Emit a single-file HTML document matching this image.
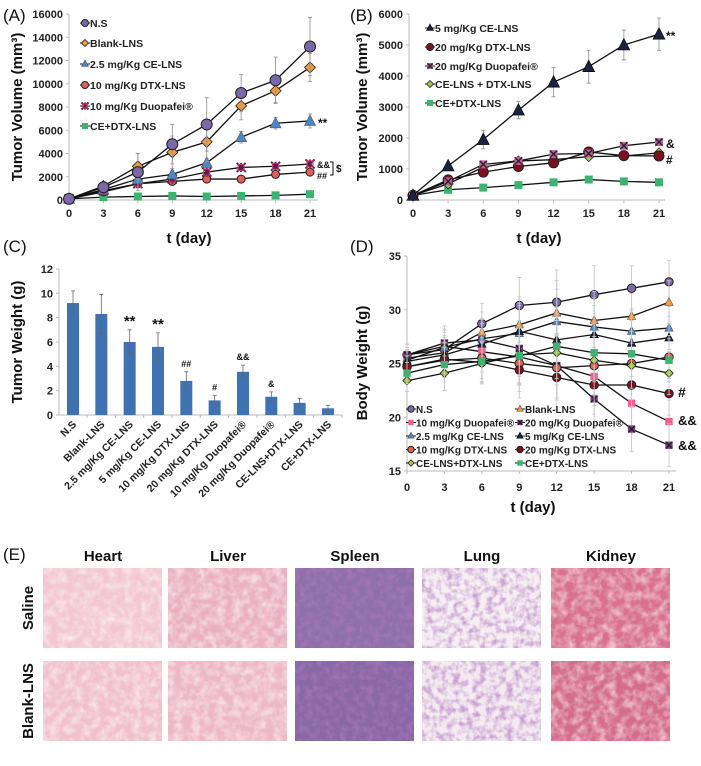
<!DOCTYPE html>
<html><head><meta charset="utf-8">
<style>
html,body{margin:0;padding:0;background:#fff;}
svg{display:block;font-family:"Liberation Sans",Arial,sans-serif;}
.tick{font-size:11px;font-weight:bold;fill:#222;}
.leg{font-size:10.5px;font-weight:bold;fill:#222;}
.legd{font-size:10px;font-weight:bold;fill:#222;}
.ttl{font-size:15px;font-weight:bold;fill:#111;}
.pl{font-size:17px;fill:#111;}
.ann{font-size:12px;font-weight:bold;fill:#111;}
.org{font-size:15px;font-weight:bold;fill:#111;}
</style></head>
<body>
<svg id="fig" width="701" height="766" viewBox="0 0 701 766">
<defs>
<filter id="tex" x="0" y="0" width="100%" height="100%">
<feTurbulence type="fractalNoise" baseFrequency="0.12" numOctaves="3" seed="4" result="n"/>
<feColorMatrix in="n" type="matrix" values="0 0 0 0 1  0 0 0 0 1  0 0 0 0 1  0 0 0 -2.2 1.4"/>
</filter>
<filter id="tex2" x="0" y="0" width="100%" height="100%">
<feTurbulence type="fractalNoise" baseFrequency="0.15" numOctaves="3" seed="9"/>
<feColorMatrix type="matrix" values="0 0 0 0 0.45  0 0 0 0 0.2  0 0 0 0 0.55  0 0 0 -2.5 1.5"/>
</filter>
</defs>
<g id="root"></g>
</svg>
<script>
// ---------- data ----------
const days = [0,3,6,9,12,15,18,21];
// Panel A
const aNames = ["N.S","Blank-LNS","2.5 mg/Kg CE-LNS","10 mg/Kg DTX-LNS","10 mg/Kg Duopafei®","CE+DTX-LNS"];
const aNS = [100,1100,2400,4800,6500,9200,10300,13200];
const aBlank = [100,1200,2900,4100,5000,8100,9400,11400];
const aCE25 = [100,900,1800,2200,3200,5400,6600,6800];
const aDTX10 = [100,700,1400,1600,1800,1800,2200,2400];
const aDuo10 = [100,800,1400,1800,2400,2800,2900,3100];
const aCEDTX = [100,250,300,350,300,350,400,500];
const aErrNS = [0,200,1600,1700,2300,1600,2000,2500];
const aErrBlank = [0,200,1100,1400,1700,1200,1000,1200];
const aErrCE25 = [0,100,300,300,400,500,500,600];
const aErrSmall = [0,100,150,150,200,200,200,200];
const aTicks = [0,2000,4000,6000,8000,10000,12000,14000,16000];
// Panel B
const bNames = ["5 mg/Kg CE-LNS","20 mg/Kg DTX-LNS","20 mg/Kg Duopafei®","CE-LNS + DTX-LNS","CE+DTX-LNS"];
const bCE5 = [150,1100,1950,2900,3800,4300,5000,5350];
const bDTX20 = [150,650,900,1080,1200,1550,1430,1420];
const bDuo20 = [150,600,1150,1260,1480,1500,1750,1870];
const bCELNS = [150,520,1060,1260,1300,1400,1420,1520];
const bCEDTX = [150,330,400,480,570,660,600,570];
const bErrCE5 = [0,80,300,280,470,530,480,520];
const bErrSmall = [0,60,80,80,80,80,80,80];
const bTicks = [0,1000,2000,3000,4000,5000,6000];
// Panel C
const cCats = ["N.S","Blank-LNS","2.5 mg/Kg CE-LNS","5 mg/Kg CE-LNS","10 mg/Kg DTX-LNS","20 mg/Kg DTX-LNS","10 mg/Kg Duopafei®","20 mg/Kg Duopafei®","CE-LNS+DTX-LNS","CE+DTX-LNS"];
const cVals = [9.2,8.3,6.0,5.6,2.8,1.2,3.55,1.5,1.0,0.55];
const cErrs = [1.0,1.6,1.0,1.15,0.75,0.4,0.55,0.4,0.35,0.25];
const cMarks = ["","","**","**","##","#","&&","&","",""];
const cTicks = [0,2,4,6,8,10,12];
// Panel D
const dNames = ["N.S","Blank-LNS","10 mg/Kg Duopafei®","20 mg/Kg Duopafei®","2.5 mg/Kg CE-LNS","5 mg/Kg CE-LNS","10 mg/Kg DTX-LNS","20 mg/Kg DTX-LNS","CE-LNS+DTX-LNS","CE+DTX-LNS"];
const dNS = [25.8,26.3,28.7,30.4,30.7,31.4,32.0,32.6];
const dBlank = [25.5,26.0,27.9,28.6,29.7,29.0,29.4,30.7];
const dDuo10 = [25.8,26.6,26.1,25.6,24.8,23.8,21.3,19.6];
const dDuo20 = [25.8,26.9,27.2,26.4,24.8,21.7,18.9,17.4];
const dCE25 = [25.3,26.5,27.3,27.8,28.9,28.4,28.0,28.3];
const dCE5 = [25.2,25.8,26.8,28.0,27.2,27.7,26.9,27.4];
const dDTX10 = [24.7,25.3,25.5,25.0,24.6,24.8,25.0,25.6];
const dDTX20 = [24.7,25.4,25.1,24.4,23.7,23.0,23.0,22.2];
const dCELNS = [23.4,24.1,25.0,25.8,26.0,25.3,24.8,24.1];
const dCEDTX = [24.1,24.9,25.2,25.7,26.6,26.0,25.9,25.3];
const dErr = [1.0,1.6,1.9,2.6,3.0,2.7,2.1,2.0];
const dTicks = [15,20,25,30,35];

// ---------- helpers ----------
const NS="http://www.w3.org/2000/svg";
const root=document.getElementById('root');
function el(tag,attrs,parent,txt){const e=document.createElementNS(NS,tag);for(const k in attrs)e.setAttribute(k,attrs[k]);if(txt!==undefined)e.textContent=txt;(parent||root).appendChild(e);return e;}
function grp(name){const g=el('g',{});return g;}
function lin(d0,d1,r0,r1){return v=>r0+(v-d0)/(d1-d0)*(r1-r0);}
function marker(g,type,x,y,fill,s){
  s=s||4.5;let m;
  if(type==='circle')m=el('circle',{cx:x,cy:y,r:s,fill:fill,stroke:'#222','stroke-width':1},g);
  else if(type==='diamond')m=el('polygon',{points:`${x},${y-s} ${x+s},${y} ${x},${y+s} ${x-s},${y}`,fill:fill,stroke:'#222','stroke-width':0.8},g);
  else if(type==='tri')m=el('polygon',{points:`${x},${y-s-0.5} ${x+s},${y+s-1} ${x-s},${y+s-1}`,fill:fill,stroke:fill==='#1a2340'?'#000':'#555','stroke-width':0.6},g);
  else if(type==='square')m=el('rect',{x:x-s+0.5,y:y-s+0.5,width:2*s-1,height:2*s-1,fill:fill,stroke:'none'},g);
  else if(type==='xbox'){m=el('rect',{x:x-s+0.5,y:y-s+0.5,width:2*s-1,height:2*s-1,fill:fill,stroke:'none'},g);
    el('path',{d:`M${x-s+1},${y-s+1}L${x+s-1},${y+s-1}M${x-s+1},${y+s-1}L${x+s-1},${y-s+1}`,stroke:'#222','stroke-width':1.4},g);}
  else if(type==='star'){m=el('path',{d:`M${x-s},${y-s}L${x+s},${y+s}M${x-s},${y+s}L${x+s},${y-s}M${x},${y-s}L${x},${y+s}`,stroke:fill,'stroke-width':2},g);
    el('rect',{x:x-s+1.5,y:y-s+1.5,width:2*s-3,height:2*s-3,fill:'none',stroke:'#c0407a','stroke-width':1},g);}
  
  
  return m;
}
function series(g,xs,ys,vals,errs,type,fill,name,size,errColor){
  const sg=el('g',{},g);
  
  
  if(errs){vals.forEach((v,i)=>{if(errs[i]>0){const e=el('path',{d:`M${xs(days[i])},${ys(v+errs[i])}V${ys(v-errs[i])}M${xs(days[i])-2},${ys(v+errs[i])}h4M${xs(days[i])-2},${ys(v-errs[i])}h4`,stroke:errColor||'#999','stroke-width':0.9,fill:'none'},sg);
    
    }});}
  const pl=el('polyline',{points:vals.map((v,i)=>xs(days[i])+','+ys(v)).join(' '),fill:'none',stroke:'#111','stroke-width':1.3},sg);
  
  
  vals.forEach((v,i)=>marker(sg,type,xs(days[i]),ys(v),fill,size));
}
function axes(g,ys,ticks,x0,x1,yb,yt){
  el('line',{x1:x0,y1:yb,x2:x1,y2:yb,stroke:'#bbb','stroke-width':1},g);
  el('line',{x1:x0,y1:yb,x2:x0,y2:yt,stroke:'#bbb','stroke-width':1},g);
  ticks.forEach(t=>{el('line',{x1:x0-3,x2:x0,y1:ys(t),y2:ys(t),stroke:'#bbb'},g);
    const tl=el('text',{x:x0-6,y:ys(t)+4,'text-anchor':'end',class:'tick'},g,t);
    
    });
}
function xdays(g,xs,yb,ylab){
  days.forEach(d=>{el('line',{x1:xs(d),x2:xs(d),y1:yb,y2:yb+3,stroke:'#bbb'},g);
    const tl=el('text',{x:xs(d),y:ylab,'text-anchor':'middle',class:'tick'},g,d);
    
    });
}
function legendEntry(g,x,y,type,fill,label,size,cls){
  const lg=el('g',{},g);
  
  
  el('line',{x1:x-5,x2:x+5,y1:y,y2:y,stroke:'#111','stroke-width':1},lg);
  marker(lg,type,x,y,fill,size||3.5);
  el('text',{x:x+5,y:y+4,class:cls||'leg'},lg,label);
}
function txt(g,x,y,s,cls,name,extra){const t=el('text',Object.assign({x:x,y:y,class:cls},extra||{}),g,s);
  
  return t;}

// ---------- Panel A ----------
(function(){
  const g=grp('panel-a');
  const xs=lin(0,21,69,310), ys=lin(0,16000,200,14);
  txt(g,3,21,'(A)','pl','panel-label-a');
  axes(g,ys,aTicks,69,318,200,14);
  xdays(g,xs,200,217);
  txt(g,189,243,'t (day)','ttl','x-axis-title',{'text-anchor':'middle'});
  txt(g,0,0,'Tumor Volume (mm³)','ttl','y-axis-title',{'text-anchor':'middle',transform:'translate(22,107) rotate(-90)'});
  series(g,xs,ys,aCEDTX,null,'square','#3cb371','series-ce-dtx-lns');
  series(g,xs,ys,aDTX10,aErrSmall,'circle','#e0605a','series-10-dtx-lns',4);
  series(g,xs,ys,aDuo10,aErrSmall,'star','#6a1a4a','series-10-duopafei');
  series(g,xs,ys,aCE25,aErrCE25,'tri','#4a86c8','series-2-5-ce-lns',5.5);
  series(g,xs,ys,aBlank,aErrBlank,'diamond','#f39a3c','series-blank-lns',5.5);
  series(g,xs,ys,aNS,aErrNS,'circle','#7a68a8','series-ns',5.5);
  const L=[['circle','#7a68a8'],['diamond','#f39a3c'],['tri','#4a86c8'],['circle','#e0605a'],['star','#6a1a4a'],['square','#3cb371']];
  const ly=[23,43,64,85,106,126];
  aNames.forEach((n,i)=>legendEntry(g,85,ly[i],L[i][0],L[i][1],n));
  txt(g,318,127,'**','ann','annotation-ce');
  txt(g,317,168,'&&','ann','annotation-duo',{style:'font-size:9px'});
  txt(g,317,179,'##','ann','annotation-dtx',{style:'font-size:9px'});
  el('path',{d:'M330,162h3v13h-3',fill:'none',stroke:'#111','stroke-width':1},g);
  txt(g,336,172,'$','ann','annotation-dollar',{style:'font-size:10px'});
})();

// ---------- Panel B ----------
(function(){
  const g=grp('panel-b');
  const xs=lin(0,21,413,659), ys=lin(0,6000,200,14);
  txt(g,350,21,'(B)','pl','panel-label-b');
  axes(g,ys,bTicks,409,665,200,14);
  xdays(g,xs,200,217);
  txt(g,539,243,'t (day)','ttl','x-axis-title',{'text-anchor':'middle'});
  txt(g,0,0,'Tumor Volume (mm³)','ttl','y-axis-title',{'text-anchor':'middle',transform:'translate(367,107) rotate(-90)'});
  series(g,xs,ys,bCEDTX,null,'square','#3cb371','series-ce-dtx-lns');
  series(g,xs,ys,bCELNS,bErrSmall,'diamond','#a6c84a','series-ce-lns-plus-dtx-lns',5);
  series(g,xs,ys,bDTX20,bErrSmall,'circle','#7a1020','series-20-dtx-lns',5);
  series(g,xs,ys,bDuo20,bErrSmall,'xbox','#c060a0','series-20-duopafei');
  series(g,xs,ys,bCE5,bErrCE5,'tri','#1a2340','series-5-ce-lns',6);
  const L=[['tri','#1a2340'],['circle','#7a1020'],['xbox','#c060a0'],['diamond','#a6c84a'],['square','#3cb371']];
  const ly=[28,47,66,84,103];
  bNames.forEach((n,i)=>legendEntry(g,430,ly[i],L[i][0],L[i][1],n));
  txt(g,666,40,'**','ann','annotation-ce');
  txt(g,666,148,'&','ann','annotation-duo');
  txt(g,666,164,'#','ann','annotation-dtx');
})();

// ---------- Panel C ----------
(function(){
  const g=grp('panel-c');
  const x0=59, ys=lin(0,12,415,269);
  const xc=i=>73+i*28.33;
  txt(g,3,252,'(C)','pl','panel-label-c');
  axes(g,ys,cTicks,x0,342,415,269);
  txt(g,0,0,'Tumor Weight (g)','ttl','y-axis-title',{'text-anchor':'middle',transform:'translate(22,342) rotate(-90)'});
  cVals.forEach((v,i)=>{
    const b=el('rect',{x:xc(i)-6,y:ys(v),width:12,height:415-ys(v),fill:'#3f72b2'},g);
    
    
    const e=el('path',{d:`M${xc(i)},${ys(v+cErrs[i])}V${ys(v-cErrs[i])}M${xc(i)-2},${ys(v+cErrs[i])}h4M${xc(i)-2},${ys(v-cErrs[i])}h4`,stroke:'#666','stroke-width':0.8,fill:'none'},g);
    
    
    if(cMarks[i]){const big=cMarks[i]==='**';
      txt(g,xc(i),ys(v+cErrs[i])-(big?4:5),cMarks[i],'ann','significance-mark',{'text-anchor':'middle',style:big?'font-size:15px':'font-size:9px'});}
    el('line',{x1:xc(i)+14,x2:xc(i)+14,y1:415,y2:418,stroke:'#bbb'},g);
    txt(g,0,0,cCats[i],'tick','x-category-label',{'text-anchor':'end',transform:`translate(${xc(i)+4},425) rotate(-45)`,style:'font-size:10.5px'});
  });
})();

// ---------- Panel D ----------
(function(){
  const g=grp('panel-d');
  const xs=lin(0,21,407,669), ys=lin(15,35,471,256);
  txt(g,350,252,'(D)','pl','panel-label-d');
  axes(g,ys,dTicks,407,676,471,256);
  xdays(g,xs,471,491);
  txt(g,533,512,'t (day)','ttl','x-axis-title',{'text-anchor':'middle'});
  txt(g,0,0,'Body Weight (g)','ttl','y-axis-title',{'text-anchor':'middle',transform:'translate(367,363) rotate(-90)'});
  const sty=[['circle','#7a68a8'],['tri','#f39a3c'],['square','#f06090'],['xbox','#8a3a8a'],['tri','#4a86c8'],['tri','#1a2340'],['circle','#e0605a'],['circle','#7a1020'],['diamond','#a6c84a'],['square','#3cb371']];
  const data=[dNS,dBlank,dDuo10,dDuo20,dCE25,dCE5,dDTX10,dDTX20,dCELNS,dCEDTX];
  data.forEach((d,i)=>series(g,xs,ys,d,dErr,sty[i][0],sty[i][1],'series-'+dNames[i].toLowerCase().replace(/[^a-z0-9]+/g,'-'),4.2,'#c8c8c8'));
  dNames.forEach((n,i)=>legendEntry(g,(i%2===0)?411:520,409+Math.floor(i/2)*13.5,sty[i][0],sty[i][1],n,3.2,'legd'));
  txt(g,678,397,'#','ann','annotation-dtx',{style:'font-size:14px'});
  txt(g,678,425,'&&','ann','annotation-duo10',{style:'font-size:13px'});
  txt(g,678,450,'&&','ann','annotation-duo20',{style:'font-size:13px'});
})();

// ---------- Panel E ----------
(function(){
  const g=grp('panel-e');
  txt(g,3,560,'(E)','pl','panel-label-e');
  const organs=['Heart','Liver','Spleen','Lung','Kidney'];
  const xsE=[43,168,295,422,551];
  const base=[['#f2c6d2','#f0c0cc'],['#eab0c2','#edb8c6'],['#8e70a8','#8a68a6'],['#f6eef2','#f4eaf0'],['#d8708e','#d46c8c']];
  organs.forEach((o,i)=>{
    txt(g,xsE[i]+60,561,o,'org','organ-header-'+o.toLowerCase(),{'text-anchor':'middle'});
    [568,661].forEach((yy,r)=>{
      const im=el('g',{},g);
      
      
      el('rect',{x:xsE[i],y:yy,width:119,height:80,fill:base[i][r]},im);
      el('rect',{x:xsE[i],y:yy,width:119,height:80,filter:(i===2||i===3)?'url(#tex2)':'url(#tex)',opacity:i===3?0.7:0.55},im);
    });
  });
  txt(g,0,0,'Saline','org','row-label-saline',{'text-anchor':'middle',transform:'translate(33,608) rotate(-90)'});
  txt(g,0,0,'Blank-LNS','org','row-label-blank-lns',{'text-anchor':'middle',transform:'translate(33,701) rotate(-90)'});
})();
</script>
</body></html>
